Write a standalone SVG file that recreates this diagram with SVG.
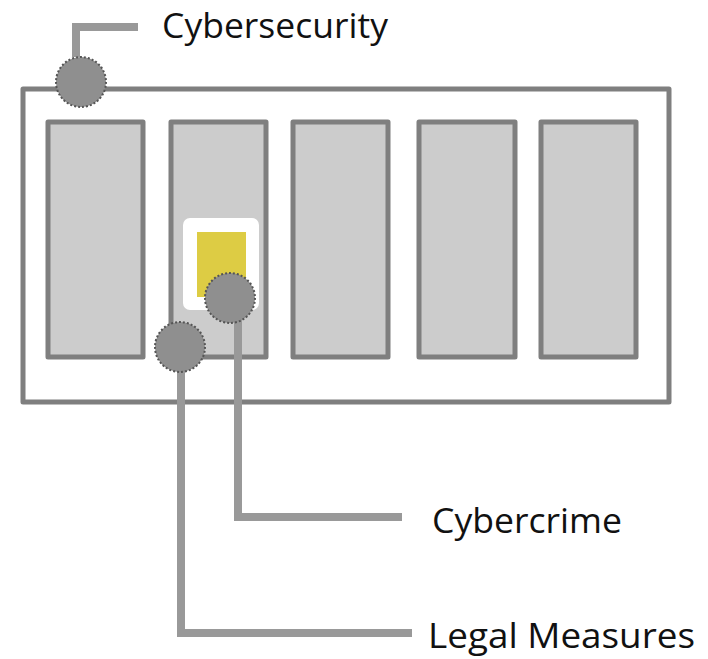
<svg xmlns="http://www.w3.org/2000/svg" width="708" height="659" viewBox="0 0 708 659">
<style>
.col{fill:#cccccc;stroke:#7f7f7f;stroke-width:5;stroke-linejoin:round}
.conn{fill:none;stroke:#999999;stroke-width:8}
.dot{fill:#8f8f8f;stroke:#555555;stroke-width:2;stroke-dasharray:2 2}
.lbl{font-family:"Open Sans","Liberation Sans",sans-serif;font-size:35px;fill:#111111}
</style>
<rect width="708" height="659" fill="#ffffff"/>
<g id="frame">
<rect x="23" y="89" width="646" height="313" fill="#ffffff" stroke="#7f7f7f" stroke-width="5" stroke-linejoin="round"/>
</g>
<g id="columns">
<rect class="col" x="48" y="122" width="95" height="235"/>
<rect class="col" x="171" y="122" width="95" height="235"/>
<rect class="col" x="293" y="122" width="95" height="235"/>
<rect class="col" x="419" y="122" width="96" height="235"/>
<rect class="col" x="541" y="122" width="95" height="235"/>
</g>
<g id="device">
<rect x="183" y="218" width="76" height="92" rx="7" fill="#ffffff"/>
<rect x="197" y="232" width="49" height="65" fill="#ddcc44"/>
</g>
<g id="connectors">
<polyline class="conn" points="76,57 76,27 138,27"/>
<polyline class="conn" points="238,320 238,517 402,517"/>
<polyline class="conn" points="181,370 181,633 412,633"/>
</g>
<g id="cybersecurity">
<circle class="dot" cx="81" cy="82" r="25"/>
<text class="lbl" x="162" y="38" textLength="226" lengthAdjust="spacingAndGlyphs">Cybersecurity</text>
</g>
<g id="cybercrime">
<circle class="dot" cx="230" cy="298" r="25"/>
<text class="lbl" x="432" y="533" textLength="190" lengthAdjust="spacingAndGlyphs">Cybercrime</text>
</g>
<g id="legal">
<circle class="dot" cx="180" cy="347" r="25"/>
<text class="lbl" x="428" y="648" textLength="267" lengthAdjust="spacingAndGlyphs">Legal Measures</text>
</g>
</svg>
